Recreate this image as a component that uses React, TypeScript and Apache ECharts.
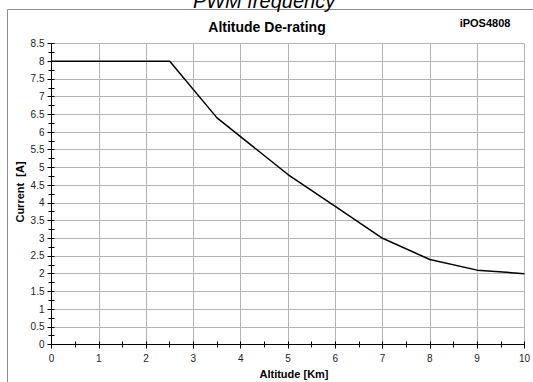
import React, { useEffect, useRef } from "react";
import * as echarts from "echarts";

const altitudeKm = [0, 2.5, 3.5, 5, 6, 7, 8, 9, 10];
const currentA = [8, 8, 6.4, 4.8, 3.9, 3.0, 2.4, 2.1, 2.0];

const xMin = 0;
const xMax = 10;
const yMin = 0;
const yMax = 8.5;

const FONT = "Liberation Sans, Arial, sans-serif";

export default function App() {
  const ref = useRef<HTMLDivElement>(null);
  useEffect(() => {
    document.body.style.margin = "0";
    if (!ref.current) return;
    const chart = echarts.init(ref.current, undefined, { renderer: "svg" });
    const gridColor = "#b4b4b4";
    chart.setOption({
      animation: false,
      backgroundColor: "#ffffff",
      graphic: [
        {
          type: "rect",
          shape: { x: 7.5, y: 9.5, width: 600, height: 400 },
          style: { fill: "none", stroke: "#8c8c8c", lineWidth: 1 },
          z: 0,
        },
        {
          type: "text",
          x: 264,
          y: 11,
          style: {
            text: "PWM frequency",
            font: `italic 20px ${FONT}`,
            fill: "#000",
            textAlign: "center",
            textVerticalAlign: "bottom",
          },
        },
        {
          type: "text",
          x: 267,
          y: 27,
          style: {
            text: "Altitude De-rating",
            font: `bold 14px ${FONT}`,
            fill: "#000",
            textAlign: "center",
            textVerticalAlign: "middle",
          },
        },
        {
          type: "text",
          x: 485,
          y: 23,
          style: {
            text: "iPOS4808",
            font: `bold 11px ${FONT}`,
            fill: "#000",
            textAlign: "center",
            textVerticalAlign: "middle",
          },
        },
        {
          type: "text",
          x: 294,
          y: 374,
          style: {
            text: "Altitude [Km]",
            font: `bold 11px ${FONT}`,
            fill: "#000",
            textAlign: "center",
            textVerticalAlign: "middle",
          },
        },
        {
          type: "text",
          x: 20,
          y: 192,
          rotation: Math.PI / 2,
          style: {
            text: "Current  [A]",
            font: `bold 11px ${FONT}`,
            fill: "#000",
            textAlign: "center",
            textVerticalAlign: "middle",
          },
        },
      ],
      grid: { left: 51.5, top: 43.5, width: 475, height: 301, containLabel: false },
      xAxis: [
        {
          type: "value",
          min: xMin,
          max: xMax,
          interval: 1,
          axisLine: { show: true, onZero: false, lineStyle: { color: "#000", width: 1 } },
          axisTick: { show: true, inside: false, length: 4, lineStyle: { color: "#000" } },
          minorTick: { show: true, splitNumber: 2, length: 3, lineStyle: { color: "#000" } },
          axisLabel: { color: "#222", fontSize: 10, fontFamily: FONT, margin: 9 },
          splitLine: { show: true, lineStyle: { color: gridColor, width: 1 } },
        },
        {
          type: "value",
          position: "bottom",
          min: xMin,
          max: xMax,
          interval: 1,
          axisLine: { show: false, onZero: false },
          axisTick: { show: true, inside: true, length: 3, lineStyle: { color: "#000" } },
          minorTick: { show: true, splitNumber: 2, length: 3, lineStyle: { color: "#000" } },
          axisLabel: { show: false },
          splitLine: { show: false },
        },
      ],
      yAxis: [
        {
          type: "value",
          min: yMin,
          max: yMax,
          interval: 0.5,
          axisLine: { show: true, onZero: false, lineStyle: { color: "#000", width: 1 } },
          axisTick: { show: true, inside: false, length: 4, lineStyle: { color: "#000" } },
          minorTick: { show: true, splitNumber: 2, length: 3, lineStyle: { color: "#000" } },
          axisLabel: { color: "#222", fontSize: 10, fontFamily: FONT, margin: 7 },
          splitLine: { show: true, lineStyle: { color: gridColor, width: 1 } },
        },
        {
          type: "value",
          position: "left",
          min: yMin,
          max: yMax,
          interval: 0.5,
          axisLine: { show: false, onZero: false },
          axisTick: { show: true, inside: true, length: 3, lineStyle: { color: "#000" } },
          minorTick: { show: true, splitNumber: 2, length: 3, lineStyle: { color: "#000" } },
          axisLabel: { show: false },
          splitLine: { show: false },
        },
      ],
      series: [
        {
          type: "line",
          data: altitudeKm.map((x, i) => [x, currentA[i]]),
          showSymbol: false,
          symbol: "none",
          lineStyle: { color: "#000", width: 1.5 },
          z: 5,
        },
      ],
    });
    return () => chart.dispose();
  }, []);
  return <div ref={ref} style={{ width: 533, height: 382 }} />;
}
